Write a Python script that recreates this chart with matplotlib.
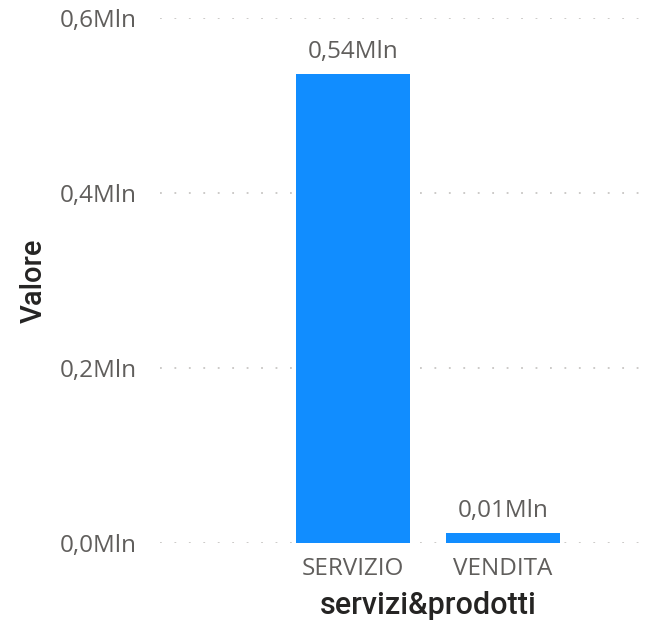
import matplotlib
matplotlib.use("Agg")
import matplotlib.pyplot as plt

categories = ["SERVIZIO", "VENDITA"]
values = [0.536, 0.0115]  # milioni
labels = ["0,54Mln", "0,01Mln"]
yticks = [0.0, 0.2, 0.4, 0.6]
ytick_labels = ["0,0Mln", "0,2Mln", "0,4Mln", "0,6Mln"]

fig = plt.figure(figsize=(6.5, 6.26), dpi=100)
ax = fig.add_axes([160 / 650, 83 / 626, 480 / 650, 525 / 626])

x = list(range(len(categories)))
ax.bar(x, values, width=0.76, color="#118DFF", zorder=3)

# etichette dati sopra le barre
for xi, v, lab in zip(x, values, labels):
    ax.annotate(lab, (xi, v), xytext=(0, 7), textcoords="offset points",
                ha="center", va="bottom", fontsize=17.5, color="#605E5C",
                family="Open Sans")

xmin, xmax = -1.287, 1.913
ax.set_xlim(xmin, xmax)
ax.set_ylim(0, 0.6)
ax.set_yticks(yticks)
ax.set_yticklabels(ytick_labels, family="Open Sans", fontsize=17.5, color="#605E5C")
ax.set_xticks(x)
ax.set_xticklabels(categories, family="Open Sans", fontsize=17.5, color="#605E5C")
ax.tick_params(length=0)
ax.tick_params(axis="y", pad=17)
ax.tick_params(axis="x", pad=10)

ax.grid(axis="y", color="#C8C6C4", linestyle=(0, (1, 7)), linewidth=1.3, zorder=0)
ax.set_axisbelow(True)
for s in ax.spines.values():
    s.set_visible(False)

ax.set_xlabel("servizi&prodotti", family="Roboto", fontweight="medium",
              fontsize=22, color="#252423")
# titolo asse centrato sulle categorie, non sulla griglia
mid = (x[0] + x[-1]) / 2
ax.xaxis.set_label_coords((mid - xmin) / (xmax - xmin), -0.092)
ax.set_ylabel("Valore", family="Roboto", fontweight="medium",
              fontsize=21, color="#252423", labelpad=8)

fig.savefig("out.png", dpi=100)
